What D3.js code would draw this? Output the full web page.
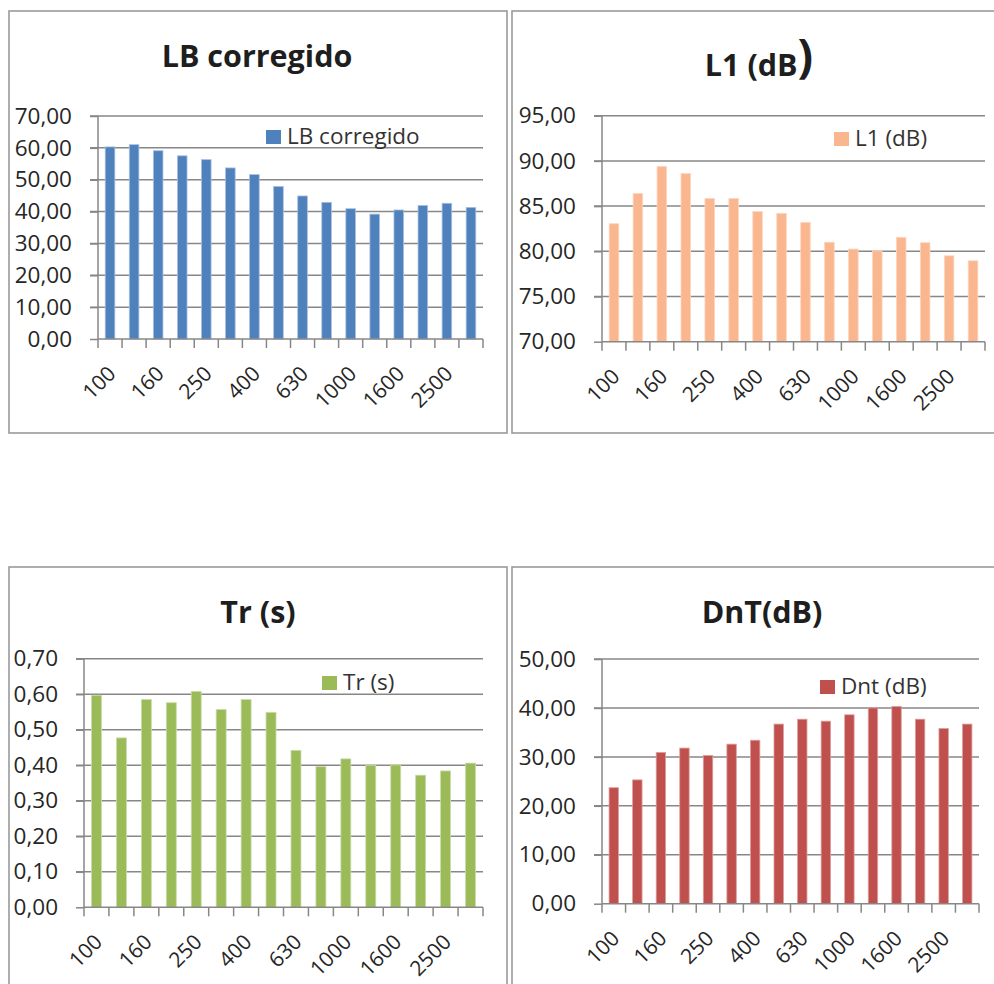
<!DOCTYPE html>
<html>
<head>
<meta charset="utf-8">
<script src="https://cdn.jsdelivr.net/npm/d3@7"></script>
<style>
  html, body { margin: 0; padding: 0; background: #fff; }
  svg { display: block; }
  text { font-family: "Open Sans", Lato, sans-serif; }
</style>
</head>
<body>
<svg id="chart" width="994" height="984"></svg>
<script>
// Third-octave band centre frequencies (Hz)
const frequencies = ["100", "125", "160", "200", "250", "315", "400", "500",
                     "630", "800", "1000", "1250", "1600", "2000", "2500", "3150"];

// Measured series, one value per band
const lbCorregido = [60.3, 61.0, 59.1, 57.5, 56.3, 53.7, 51.6, 47.9,
                     44.9, 42.9, 40.9, 39.2, 40.5, 41.9, 42.6, 41.3];
const l1Db        = [83.05, 86.4, 89.4, 88.6, 85.85, 85.85, 84.4, 84.2,
                     83.2, 81.0, 80.25, 80.05, 81.55, 80.95, 79.5, 78.95];
const trSeconds   = [0.597, 0.477, 0.585, 0.576, 0.608, 0.557, 0.585, 0.549,
                     0.442, 0.396, 0.418, 0.400, 0.401, 0.372, 0.384, 0.406];
const dntDb       = [23.7, 25.3, 30.9, 31.8, 30.3, 32.6, 33.4, 36.7,
                     37.7, 37.3, 38.6, 40.0, 40.3, 37.7, 35.8, 36.7];

// Value-axis ticks
const lbTicks  = [0, 10, 20, 30, 40, 50, 60, 70];
const l1Ticks  = [70, 75, 80, 85, 90, 95];
const trTicks  = [0, 0.1, 0.2, 0.3, 0.4, 0.5, 0.6, 0.7];
const dntTicks = [0, 10, 20, 30, 40, 50];

// Category labels shown under the axis (every other band)
const shownFrequencies = frequencies.filter((d, i) => i % 2 === 0);

const comma = d3.formatLocale({ decimal: ",", thousands: ".", grouping: [3], currency: ["", ""] });
const fmt2 = comma.format(".2f");

const panels = [
  { title: "LB corregido", legend: "LB corregido", values: lbCorregido, ticks: lbTicks,
    color: "#4f81bd", edge: "#a9c0e0",
    frame: { x: 9, y: 11, w: 498, h: 422 },
    plot: { x0: 98, x1: 483, y0: 116, y1: 339 },
    titlePos: [257, 67], legendPos: [266, 130] },
  { title: "L1 (dB", titleTail: ")", legend: "L1 (dB)", values: l1Db, ticks: l1Ticks,
    color: "#fab78f", edge: "#fcd6bf",
    frame: { x: 512, y: 11, w: 492, h: 422 },
    plot: { x0: 602, x1: 985, y0: 115.7, y1: 341.7 },
    titlePos: [759, 76], legendPos: [834, 132] },
  { title: "Tr (s)", legend: "Tr (s)", values: trSeconds, ticks: trTicks,
    color: "#9bbb59", edge: "#cadcab",
    frame: { x: 9, y: 567, w: 498, h: 430 },
    plot: { x0: 84, x1: 483, y0: 658.7, y1: 907.3 },
    titlePos: [258, 623], legendPos: [322, 676] },
  { title: "DnT(dB)", legend: "Dnt (dB)", values: dntDb, ticks: dntTicks,
    color: "#c0504d", edge: "#dd9f9d",
    frame: { x: 512, y: 567, w: 492, h: 430 },
    plot: { x0: 602, x1: 979, y0: 659, y1: 903.7 },
    titlePos: [762, 623], legendPos: [820, 680] }
];

const svg = d3.select("#chart");
const gridColor = "#878787";
const labelSize = 22.5;
const categorySize = 21;

panels.forEach(p => {
  const g = svg.append("g");

  // chart frame
  g.append("rect")
    .attr("x", p.frame.x).attr("y", p.frame.y)
    .attr("width", p.frame.w).attr("height", p.frame.h)
    .attr("fill", "#fff").attr("stroke", "#9a9a9a").attr("stroke-width", 1.6);

  const x = d3.scaleBand()
    .domain(frequencies)
    .range([p.plot.x0, p.plot.x1])
    .paddingInner(0.6).paddingOuter(0.3);

  const y = d3.scaleLinear()
    .domain([p.ticks[0], p.ticks[p.ticks.length - 1]])
    .range([p.plot.y1, p.plot.y0]);

  // horizontal gridlines
  g.append("g").selectAll("line").data(p.ticks.slice(1)).join("line")
    .attr("x1", p.plot.x0 - 8).attr("x2", p.plot.x1)
    .attr("y1", d => y(d)).attr("y2", d => y(d))
    .attr("stroke", gridColor).attr("stroke-width", 1.5);

  // value axis
  const yAxis = d3.axisLeft(y).tickValues(p.ticks).tickSize(8).tickPadding(18)
    .tickFormat(d => fmt2(d));
  const yg = g.append("g").attr("transform", `translate(${p.plot.x0},0)`).call(yAxis);
  yg.select(".domain").attr("stroke", gridColor).attr("stroke-width", 1.5)
    .attr("d", `M0,${p.plot.y0}V${p.plot.y1}`);
  yg.selectAll(".tick line").attr("stroke", gridColor).attr("stroke-width", 1.5);
  yg.selectAll(".tick text")
    .attr("fill", "#262626").attr("font-size", labelSize)
    .attr("font-family", "'Open Sans', sans-serif");

  // bars
  g.append("g").selectAll("rect").data(p.values).join("rect")
    .attr("x", (d, i) => x(frequencies[i]))
    .attr("width", x.bandwidth())
    .attr("y", d => y(d))
    .attr("height", d => y(p.ticks[0]) - y(d))
    .attr("fill", p.color)
    .attr("stroke", p.edge).attr("stroke-width", 0.8);

  // category axis with ticks on band boundaries
  const xg = g.append("g");
  xg.append("line")
    .attr("x1", p.plot.x0).attr("x2", p.plot.x1)
    .attr("y1", p.plot.y1).attr("y2", p.plot.y1)
    .attr("stroke", gridColor).attr("stroke-width", 1.5);
  const bounds = frequencies.map(f => x(f) - x.step() * x.paddingInner() / 2)
    .concat([p.plot.x1]);
  bounds[0] = p.plot.x0;
  xg.selectAll("line.tk").data(bounds).join("line").attr("class", "tk")
    .attr("x1", d => d).attr("x2", d => d)
    .attr("y1", p.plot.y1).attr("y2", p.plot.y1 + 9)
    .attr("stroke", gridColor).attr("stroke-width", 1.5);
  xg.selectAll("text").data(shownFrequencies).join("text")
    .attr("transform", d => `translate(${x(d) + x.bandwidth() / 2 + 7},${p.plot.y1 + 36}) rotate(-45)`)
    .attr("text-anchor", "end")
    .attr("fill", "#262626").attr("font-size", categorySize)
    .text(d => d);

  // title
  const t = g.append("text")
    .attr("x", p.titlePos[0]).attr("y", p.titlePos[1])
    .attr("text-anchor", "middle")
    .attr("font-weight", 700).attr("font-size", 30.5).attr("fill", "#1e1e1e");
  t.append("tspan").text(p.title);
  if (p.titleTail) {
    t.append("tspan").attr("font-size", 46).attr("dy", -4).text(p.titleTail);
  }

  // legend
  const lg = g.append("g").attr("transform", `translate(${p.legendPos[0]},${p.legendPos[1]})`);
  lg.append("rect").attr("width", 15).attr("height", 14).attr("fill", p.color);
  lg.append("text").attr("x", 21).attr("y", 14)
    .attr("font-size", labelSize).attr("fill", "#333").text(p.legend);
});
</script>
</body>
</html>
